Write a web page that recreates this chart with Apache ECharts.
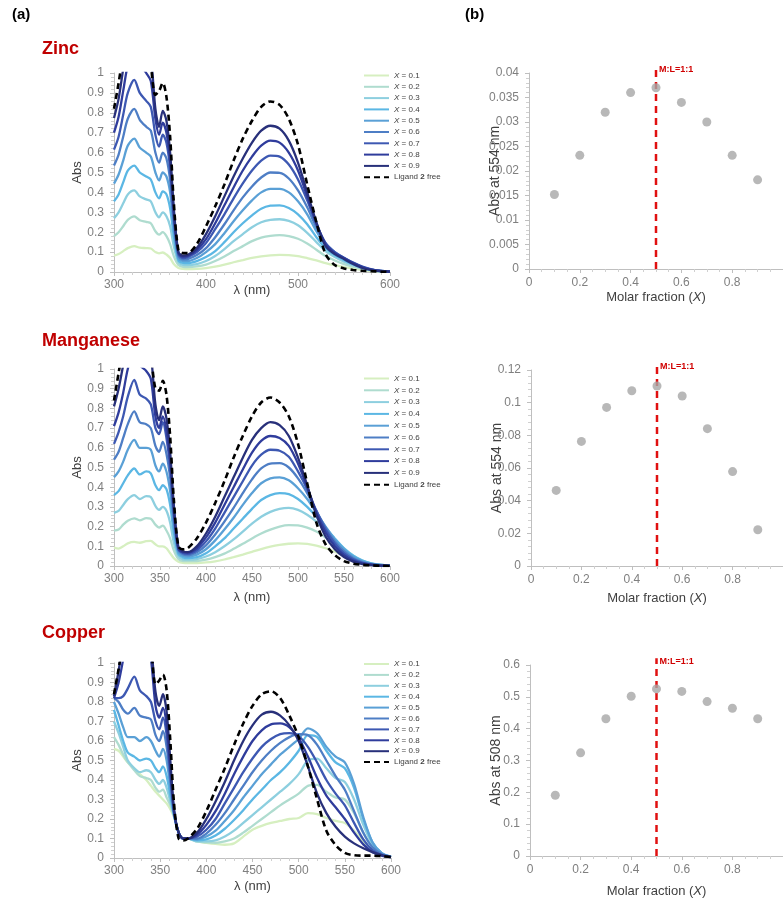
<!DOCTYPE html>
<html>
<head>
<meta charset="utf-8">
<script src="https://cdn.jsdelivr.net/npm/echarts@6/dist/echarts.min.js"></script>
<style>html,body{margin:0;padding:0;background:#fff;}#c{width:783px;height:899px;}</style>
</head>
<body>
<div id="c"></div>
<script>
// Wavelengths (nm)
const WL = [300,305,310,315,322,328,335,340,345,349,353,357,361,365,370,375,380,390,400,410,420,430,440,450,460,470,480,490,500,510,520,530,540,550,560,570,580,590,600];

const seriesNames = ['X = 0.1','X = 0.2','X = 0.3','X = 0.4','X = 0.5','X = 0.6','X = 0.7','X = 0.8','X = 0.9','Ligand 2 free'];

// Zinc spectra (rows follow seriesNames)
const zincAbs = [
 [0.082,0.09,0.105,0.12,0.13,0.122,0.12,0.118,0.1,0.094,0.098,0.088,0.07,0.04,0.02,0.016, 0.015,0.016,0.02,0.027,0.037,0.049,0.06,0.071,0.079,0.084,0.086,0.085,0.08,0.07,0.058,0.045,0.034,0.025,0.017,0.01,0.005,0.002,0.001],
 [0.18,0.2,0.23,0.262,0.28,0.26,0.252,0.245,0.205,0.188,0.2,0.18,0.14,0.08,0.035,0.026, 0.025,0.028,0.037,0.055,0.078,0.105,0.13,0.155,0.173,0.182,0.185,0.18,0.167,0.143,0.112,0.08,0.058,0.04,0.027,0.016,0.008,0.003,0.001],
 [0.27,0.3,0.345,0.39,0.41,0.38,0.365,0.355,0.3,0.275,0.3,0.28,0.23,0.13,0.05,0.036, 0.035,0.04,0.055,0.08,0.115,0.155,0.19,0.225,0.25,0.262,0.265,0.257,0.235,0.197,0.15,0.105,0.075,0.052,0.034,0.02,0.01,0.004,0.002],
 [0.355,0.39,0.45,0.51,0.535,0.5,0.48,0.465,0.4,0.37,0.405,0.39,0.32,0.18,0.06,0.046, 0.045,0.055,0.075,0.105,0.15,0.2,0.245,0.285,0.318,0.333,0.335,0.322,0.29,0.24,0.175,0.12,0.085,0.06,0.038,0.022,0.01,0.004,0.002],
 [0.444,0.49,0.56,0.635,0.67,0.625,0.6,0.58,0.5,0.46,0.5,0.48,0.4,0.22,0.07,0.055, 0.055,0.07,0.1,0.14,0.195,0.255,0.31,0.36,0.4,0.418,0.418,0.4,0.355,0.29,0.205,0.135,0.095,0.065,0.042,0.024,0.011,0.005,0.002],
 [0.535,0.59,0.68,0.77,0.82,0.765,0.73,0.71,0.6,0.55,0.6,0.57,0.46,0.25,0.08,0.063, 0.065,0.085,0.12,0.175,0.24,0.31,0.375,0.43,0.475,0.5,0.498,0.47,0.41,0.325,0.225,0.145,0.1,0.07,0.045,0.025,0.012,0.005,0.002],
 [0.615,0.68,0.79,0.9,0.965,0.9,0.86,0.83,0.69,0.63,0.69,0.65,0.52,0.28,0.09,0.07, 0.075,0.1,0.145,0.215,0.29,0.37,0.445,0.51,0.56,0.585,0.58,0.54,0.465,0.36,0.24,0.145,0.1,0.072,0.047,0.027,0.013,0.006,0.002],
 [0.70,0.78,0.91,1.04,1.13,1.05,1.0,0.96,0.77,0.69,0.75,0.7,0.56,0.3,0.095,0.077, 0.08,0.11,0.165,0.245,0.335,0.425,0.51,0.58,0.635,0.66,0.65,0.6,0.51,0.38,0.245,0.14,0.095,0.07,0.045,0.025,0.012,0.005,0.002],
 [0.774,0.87,1.02,1.16,1.28,1.2,1.14,1.08,0.82,0.73,0.81,0.76,0.6,0.32,0.1,0.082, 0.085,0.12,0.19,0.28,0.38,0.48,0.57,0.65,0.71,0.735,0.72,0.66,0.55,0.4,0.25,0.13,0.09,0.065,0.04,0.02,0.01,0.004,0.002],
 [0.82,0.95,1.1,1.25,1.4,1.35,1.3,1.05,0.89,0.91,0.95,0.88,0.68,0.35,0.11,0.095, 0.095,0.14,0.23,0.33,0.44,0.56,0.67,0.76,0.83,0.857,0.84,0.77,0.64,0.44,0.25,0.09,0.035,0.018,0.01,0.006,0.004,0.002,0.001]
];

// Manganese spectra
const manganeseAbs = [
 [0.093,0.088,0.1,0.115,0.122,0.118,0.126,0.128,0.11,0.1,0.1,0.09,0.065,0.04,0.022,0.016, 0.015,0.015,0.018,0.024,0.033,0.045,0.058,0.072,0.086,0.098,0.107,0.113,0.115,0.112,0.103,0.09,0.073,0.054,0.035,0.019,0.009,0.004,0.001],
 [0.18,0.185,0.21,0.23,0.242,0.232,0.243,0.24,0.21,0.195,0.205,0.18,0.14,0.08,0.035,0.025, 0.025,0.025,0.032,0.045,0.063,0.087,0.113,0.14,0.165,0.185,0.2,0.207,0.206,0.195,0.175,0.145,0.11,0.077,0.047,0.025,0.012,0.005,0.002],
 [0.27,0.28,0.31,0.34,0.36,0.34,0.355,0.35,0.305,0.285,0.3,0.28,0.22,0.12,0.05,0.034, 0.032,0.035,0.048,0.07,0.1,0.135,0.175,0.215,0.25,0.275,0.29,0.295,0.285,0.26,0.225,0.18,0.135,0.09,0.054,0.028,0.013,0.005,0.002],
 [0.36,0.38,0.42,0.46,0.495,0.465,0.48,0.47,0.41,0.385,0.41,0.39,0.31,0.17,0.06,0.044, 0.04,0.045,0.065,0.1,0.14,0.19,0.24,0.29,0.335,0.36,0.37,0.365,0.34,0.3,0.25,0.195,0.14,0.09,0.052,0.027,0.012,0.005,0.002],
 [0.45,0.48,0.53,0.59,0.64,0.6,0.6,0.59,0.51,0.48,0.52,0.48,0.38,0.21,0.07,0.052, 0.048,0.058,0.085,0.13,0.185,0.245,0.31,0.37,0.42,0.445,0.45,0.435,0.395,0.34,0.27,0.2,0.135,0.085,0.047,0.024,0.011,0.005,0.002],
 [0.54,0.58,0.65,0.72,0.785,0.73,0.72,0.7,0.61,0.58,0.63,0.57,0.45,0.24,0.08,0.06, 0.055,0.07,0.105,0.16,0.225,0.295,0.37,0.44,0.495,0.52,0.522,0.5,0.445,0.37,0.28,0.195,0.125,0.075,0.04,0.02,0.009,0.004,0.001],
 [0.62,0.68,0.76,0.86,0.945,0.87,0.85,0.82,0.7,0.67,0.73,0.65,0.5,0.27,0.085,0.066, 0.062,0.08,0.125,0.19,0.27,0.35,0.43,0.51,0.565,0.59,0.585,0.555,0.48,0.39,0.28,0.185,0.115,0.065,0.034,0.016,0.007,0.003,0.001],
 [0.71,0.78,0.88,1.0,1.1,1.02,0.99,0.95,0.76,0.7,0.76,0.69,0.54,0.29,0.09,0.07, 0.068,0.09,0.145,0.22,0.31,0.4,0.49,0.575,0.635,0.66,0.65,0.61,0.52,0.4,0.27,0.17,0.1,0.055,0.028,0.013,0.006,0.002,0.001],
 [0.81,0.9,1.02,1.15,1.27,1.18,1.13,1.07,0.82,0.74,0.81,0.75,0.58,0.31,0.095,0.075, 0.07,0.1,0.165,0.25,0.35,0.45,0.55,0.64,0.7,0.73,0.715,0.66,0.55,0.41,0.26,0.15,0.085,0.045,0.022,0.01,0.005,0.002,0.001],
 [0.84,0.98,1.12,1.25,1.38,1.33,1.28,1.08,0.9,0.89,0.94,0.87,0.66,0.34,0.1,0.085, 0.09,0.14,0.22,0.32,0.43,0.55,0.66,0.76,0.83,0.855,0.83,0.76,0.62,0.42,0.22,0.11,0.055,0.025,0.012,0.006,0.003,0.001,0]
];

// Copper spectra
const copperAbs = [
 [0.56,0.55,0.52,0.49,0.46,0.43,0.4,0.37,0.34,0.32,0.3,0.28,0.25,0.21,0.13,0.1, 0.1,0.085,0.078,0.072,0.068,0.075,0.11,0.145,0.165,0.18,0.19,0.2,0.205,0.23,0.225,0.205,0.19,0.18,0.14,0.085,0.04,0.013,0.004],
 [0.62,0.58,0.53,0.49,0.45,0.42,0.41,0.4,0.36,0.34,0.35,0.31,0.27,0.215,0.13,0.1, 0.1,0.085,0.08,0.078,0.085,0.1,0.13,0.165,0.2,0.235,0.27,0.3,0.33,0.37,0.375,0.34,0.31,0.3,0.23,0.13,0.055,0.018,0.005],
 [0.7,0.64,0.57,0.5,0.46,0.44,0.45,0.44,0.4,0.38,0.4,0.36,0.29,0.22,0.13,0.1, 0.1,0.085,0.085,0.09,0.11,0.14,0.18,0.22,0.26,0.3,0.34,0.38,0.43,0.5,0.51,0.46,0.41,0.39,0.3,0.17,0.07,0.022,0.006],
 [0.76,0.68,0.6,0.54,0.52,0.5,0.51,0.5,0.46,0.44,0.47,0.42,0.32,0.22,0.13,0.1, 0.1,0.09,0.095,0.115,0.15,0.195,0.245,0.3,0.35,0.4,0.44,0.49,0.55,0.63,0.62,0.55,0.49,0.46,0.36,0.2,0.08,0.025,0.007],
 [0.8,0.74,0.67,0.62,0.62,0.6,0.62,0.6,0.55,0.52,0.56,0.5,0.36,0.225,0.13,0.1, 0.1,0.095,0.11,0.14,0.19,0.245,0.31,0.37,0.43,0.48,0.53,0.57,0.61,0.665,0.64,0.57,0.52,0.49,0.38,0.21,0.08,0.025,0.007],
 [0.82,0.8,0.76,0.74,0.77,0.73,0.72,0.71,0.63,0.6,0.65,0.57,0.4,0.23,0.13,0.1, 0.1,0.1,0.125,0.17,0.23,0.3,0.37,0.44,0.5,0.55,0.59,0.62,0.635,0.63,0.58,0.5,0.42,0.35,0.24,0.13,0.055,0.02,0.006],
 [0.82,0.82,0.83,0.87,0.93,0.86,0.83,0.8,0.7,0.66,0.72,0.63,0.43,0.235,0.13,0.1, 0.1,0.11,0.145,0.2,0.28,0.36,0.44,0.51,0.57,0.61,0.635,0.64,0.625,0.57,0.49,0.4,0.33,0.27,0.18,0.095,0.04,0.015,0.005],
 [0.82,0.9,1.02,1.15,1.25,1.18,1.12,1.02,0.78,0.72,0.77,0.68,0.46,0.24,0.13,0.1, 0.1,0.12,0.17,0.24,0.33,0.43,0.52,0.6,0.655,0.685,0.69,0.67,0.615,0.52,0.41,0.32,0.26,0.2,0.13,0.07,0.03,0.012,0.004],
 [0.83,0.96,1.12,1.27,1.4,1.33,1.25,1.1,0.85,0.78,0.84,0.75,0.5,0.25,0.13,0.1, 0.1,0.13,0.2,0.29,0.39,0.5,0.6,0.68,0.735,0.75,0.73,0.68,0.6,0.47,0.33,0.23,0.16,0.11,0.075,0.05,0.03,0.015,0.005],
 [0.84,0.97,1.12,1.26,1.38,1.33,1.28,1.1,0.89,0.91,0.94,0.86,0.6,0.28,0.1,0.09, 0.1,0.15,0.24,0.35,0.46,0.58,0.69,0.78,0.84,0.855,0.82,0.73,0.62,0.47,0.3,0.14,0.066,0.026,0.014,0.012,0.012,0.009,0.005]
];

// Job plot data
const molarX = [0.1,0.2,0.3,0.4,0.5,0.6,0.7,0.8,0.9];
const zincJob = [0.0152,0.0232,0.032,0.036,0.037,0.034,0.030,0.0232,0.0182];
const manganeseJob = [0.0463,0.0763,0.0971,0.1073,0.1102,0.1041,0.0841,0.0578,0.0222];
const copperJob = [0.191,0.324,0.431,0.502,0.525,0.517,0.485,0.464,0.431];
const stoichX = 0.5;

const lineColors = ['#d6efc0','#afdccf','#8dcfdf','#5bb7e4','#5aa0d6','#4e7ec5','#3d58b2','#2f3c9c','#28307a','#000000'];

const FONT = "'Liberation Sans', Arial, sans-serif";
const NARROW = "'Liberation Sans Narrow', 'Liberation Sans', Arial, sans-serif";
const AX = '#bfbfbf';
const LBL = '#7f7f7f';

const specGrids = [
  {left:114, top:73, width:276, height:199},
  {left:114, top:369, width:276, height:197},
  {left:114, top:663, width:277, height:195}
];
const jobGrids = [
  {left:529, top:73, width:260, height:196},
  {left:531, top:370, width:257, height:196},
  {left:530, top:665, width:258, height:193}
];
const specXInterval = [100, 50, 50];
const specXMinor = [10, 5, 5];
const specXNameGap = [12, 25, 22];
const jobYMax = [0.04, 0.12, 0.6];
const jobYInterval = [0.005, 0.02, 0.1];
const jobYName = ['Abs at 554 nm','Abs at 554 nm','Abs at 508 nm'];
const jobXNameGap = [22, 26, 29];
const legendTops = [71.5, 374.5, 660];
const legendGaps = [3.3, 3.8, 2.9];

const grids = [], xAxes = [], yAxes = [], series = [], legends = [];
const spectra = [zincAbs, manganeseAbs, copperAbs];
const jobs = [zincJob, manganeseJob, copperJob];

function baseAxis(extra) {
  return Object.assign({
    axisLine: {show: true, lineStyle: {color: AX, width: 1}},
    axisTick: {show: true, length: 4, lineStyle: {color: AX}},
    minorTick: {show: true, length: 3, lineStyle: {color: '#d0d0d0'}},
    splitLine: {show: false},
    nameMoveOverlap: false,
    axisLabel: {color: LBL, fontSize: 11.5, fontFamily: NARROW},
  }, extra);
}

for (let p = 0; p < 3; p++) {
  grids.push(specGrids[p]);
  xAxes.push(baseAxis({
    type: 'value', gridIndex: p, min: 300, max: 600, interval: specXInterval[p],
    minorTick: {show: true, splitNumber: specXMinor[p], length: 3, lineStyle: {color: '#d0d0d0'}},
    axisLabel: {color: LBL, fontSize: 12, fontFamily: NARROW, margin: 7},
    name: 'λ (nm)', nameLocation: 'middle', nameGap: specXNameGap[p],
    nameTextStyle: {color: '#404040', fontSize: 13, fontFamily: NARROW}
  }));
  yAxes.push(baseAxis({
    type: 'value', gridIndex: p, min: 0, max: 1, interval: 0.1,
    minorTick: {show: true, splitNumber: 5, length: 3, lineStyle: {color: '#d0d0d0'}},
    axisLabel: {color: LBL, fontSize: 12, fontFamily: NARROW, margin: 10},
    name: 'Abs', nameLocation: 'middle', nameGap: 30,
    nameTextStyle: {color: '#404040', fontSize: 13, fontFamily: NARROW}
  }));
  spectra[p].forEach((row, i) => {
    const isLig = i === 9;
    series.push({
      type: 'line', name: seriesNames[i], xAxisIndex: p, yAxisIndex: p,
      data: WL.map((w, k) => [w, row[k]]),
      smooth: 0.3, symbol: 'none', clip: true, silent: true,
      z: isLig ? 3 : 2,
      lineStyle: {color: lineColors[i], width: isLig ? 2.6 : 2.3, type: isLig ? [6, 4] : 'solid'},
      itemStyle: {color: lineColors[i]}
    });
  });
  legends.push({
    orient: 'vertical', left: 363, top: legendTops[p], padding: 0,
    itemWidth: 25, itemHeight: 8, itemGap: legendGaps[p], selectedMode: false,
    itemStyle: {opacity: 0},
    data: seriesNames,
    textStyle: {color: '#404040', fontSize: 8, fontFamily: NARROW, lineHeight: 8,
      rich: {
        i: {fontStyle: 'italic', fontSize: 8, color: '#404040', fontFamily: NARROW},
        b: {fontWeight: 'bold', fontSize: 8, color: '#404040', fontFamily: NARROW},
        n: {fontSize: 8, color: '#404040', fontFamily: NARROW}
      }},
    formatter: function (name) {
      if (name.charAt(0) === 'X') return '{i|X}{n|' + name.slice(1) + '}';
      return '{n|Ligand }{b|2}{n| free}';
    }
  });
}

for (let p = 0; p < 3; p++) {
  const gi = 3 + p;
  grids.push(jobGrids[p]);
  xAxes.push(baseAxis({
    type: 'value', gridIndex: gi, min: 0, max: 1, interval: 0.2,
    minorTick: {show: true, splitNumber: 4, length: 3, lineStyle: {color: '#d0d0d0'}},
    axisLabel: {color: LBL, fontSize: 12, fontFamily: NARROW, margin: 8, showMaxLabel: false},
    name: '{n|Molar fraction (}{i|X}{n|)}', nameLocation: 'middle', nameGap: jobXNameGap[p],
    nameTextStyle: {color: '#404040', fontSize: 13, fontFamily: NARROW,
      rich: {n: {fontSize: 13, color: '#404040', fontFamily: NARROW}, i: {fontSize: 13, fontStyle: 'italic', color: '#404040', fontFamily: NARROW}}}
  }));
  yAxes.push(baseAxis({
    type: 'value', gridIndex: gi, min: 0, max: jobYMax[p], interval: jobYInterval[p],
    minorTick: {show: true, splitNumber: 5, length: 3, lineStyle: {color: '#d0d0d0'}},
    axisLabel: {color: LBL, fontSize: 12, fontFamily: NARROW, margin: 10},
    name: jobYName[p], nameLocation: 'middle', nameGap: 27,
    nameTextStyle: {color: '#404040', fontSize: 14, fontFamily: NARROW}
  }));
  series.push({
    type: 'scatter', name: 'job' + p, xAxisIndex: gi, yAxisIndex: gi,
    data: molarX.map((x, k) => [x, jobs[p][k]]),
    symbol: 'circle', symbolSize: 9, silent: true,
    itemStyle: {color: '#a6a6a6'}
  });
  series.push({
    type: 'line', name: 'ratio' + p, xAxisIndex: gi, yAxisIndex: gi,
    data: [[stoichX, 0], [stoichX, jobYMax[p] * 1.035]],
    symbol: 'none', clip: false, silent: true, z: 1,
    lineStyle: {color: '#e01010', width: 2.5, type: [7, 5]},
    endLabel: {show: true, formatter: 'M:L=1:1', color: '#d00000', fontSize: 9, fontWeight: 'bold',
      fontFamily: NARROW, distance: 3, offset: [0, 3]}
  });
}

const titles = [
  {text: '(a)', left: 12, top: 7, textStyle: {fontSize: 15, fontWeight: 'bold', color: '#000', fontFamily: FONT}},
  {text: '(b)', left: 465, top: 7, textStyle: {fontSize: 15, fontWeight: 'bold', color: '#000', fontFamily: FONT}},
  {text: 'Zinc', left: 42, top: 40, textStyle: {fontSize: 18, fontWeight: 'bold', color: '#c00000', fontFamily: FONT}},
  {text: 'Manganese', left: 42, top: 332, textStyle: {fontSize: 18, fontWeight: 'bold', color: '#c00000', fontFamily: FONT}},
  {text: 'Copper', left: 42, top: 624, textStyle: {fontSize: 18, fontWeight: 'bold', color: '#c00000', fontFamily: FONT}}
];

const chart = echarts.init(document.getElementById('c'), null, {renderer: 'canvas'});
chart.setOption({
  animation: false,
  backgroundColor: '#fff',
  title: titles.map(t => Object.assign({padding: 0}, t)),
  grid: grids,
  xAxis: xAxes,
  yAxis: yAxes,
  legend: legends,
  series: series
});
</script>
</body>
</html>
